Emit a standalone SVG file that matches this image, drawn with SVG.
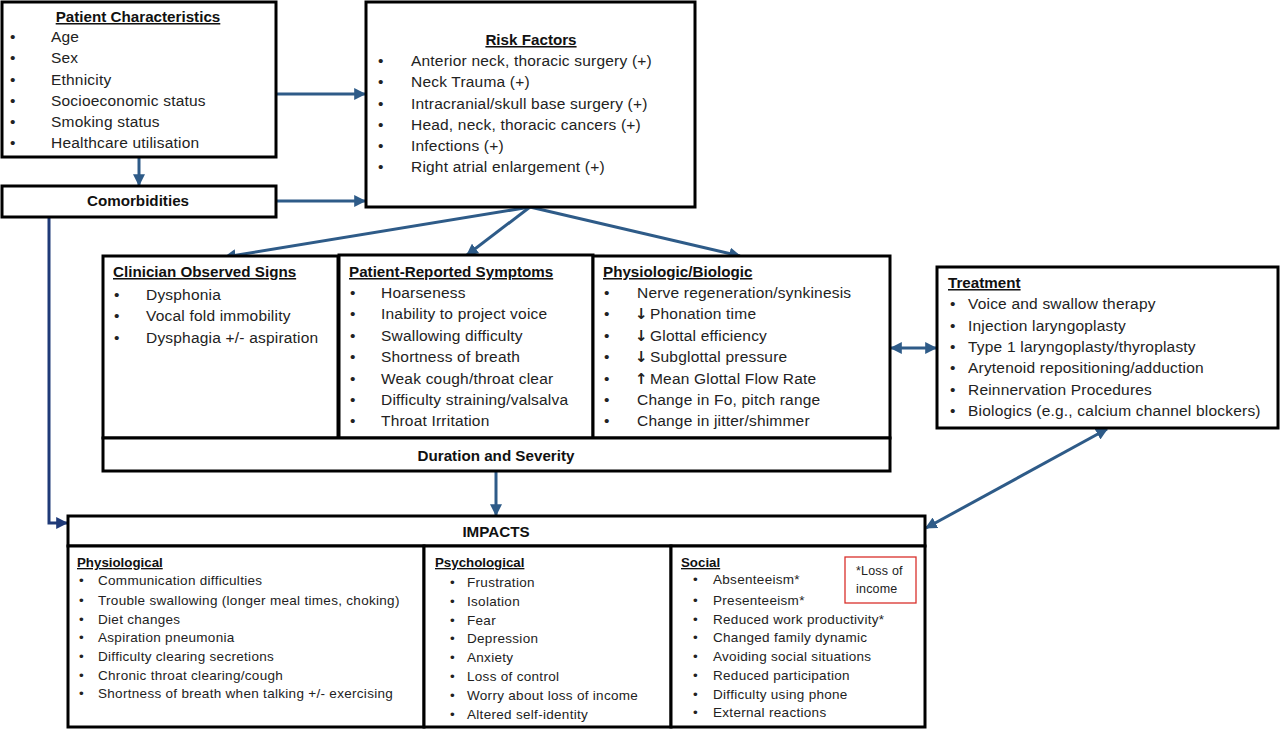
<svg xmlns="http://www.w3.org/2000/svg" width="1280" height="731" viewBox="0 0 1280 731">
<defs>
<marker id="ah" viewBox="0 0 10 10" refX="9" refY="5" markerWidth="4" markerHeight="4" orient="auto-start-reverse" markerUnits="strokeWidth">
<path d="M0,0 L10,5 L0,10 z" fill="#2E5B88"/>
</marker>
<marker id="ahd" viewBox="0 0 10 10" refX="9" refY="5" markerWidth="4" markerHeight="4" orient="auto" markerUnits="strokeWidth">
<path d="M0,0 L10,5 L0,10 z" fill="#1F3A78"/>
</marker>
<style>
.box{fill:#fff;stroke:#000;stroke-width:3}
.t{font-family:"Liberation Sans",Arial,sans-serif;font-size:15.5px;letter-spacing:0.2px;fill:#222}
.s{font-family:"Liberation Sans",Arial,sans-serif;font-size:13.5px;letter-spacing:0.3px;fill:#222}
.h{font-family:"Liberation Sans",Arial,sans-serif;font-size:15.2px;font-weight:bold;fill:#111}
.hs{font-family:"Liberation Sans",Arial,sans-serif;font-size:13.3px;font-weight:bold;fill:#111}
.ar{font-family:"DejaVu Sans",sans-serif;font-size:15px;font-weight:bold;fill:#222}
.u{text-decoration:underline}
.c{text-anchor:middle}
.con{fill:none;stroke:#2E5B88;stroke-width:3;marker-end:url(#ah)}
.dbl{marker-start:url(#ah)}
</style>
</defs>

<g id="connectors">
<line class="con" x1="276" y1="94" x2="365" y2="94"/>
<line class="con" x1="276" y1="201" x2="365" y2="201"/>
<line class="con" x1="139" y1="157" x2="139" y2="185"/>
<line class="con" x1="530" y1="207" x2="225" y2="257"/>
<line class="con" x1="530" y1="207" x2="467" y2="255"/>
<line class="con" x1="530" y1="207" x2="740" y2="256"/>
<line class="con" x1="496" y1="471" x2="496" y2="515"/>
<line class="con dbl" x1="891" y1="348" x2="936" y2="348"/>
<line class="con dbl" x1="1107" y1="429" x2="926" y2="528"/>
<polyline fill="none" stroke="#1F3A78" stroke-width="3" marker-end="url(#ahd)" points="49,217 49,523 67,523"/>
</g>

<g id="patient-characteristics">
<rect class="box" x="2" y="2" width="274" height="155"/>
<text class="h u c" x="138" y="22">Patient Characteristics</text>
<g class="t">
<text x="10" y="42">•</text><text x="51" y="42">Age</text>
<text x="10" y="63">•</text><text x="51" y="63">Sex</text>
<text x="10" y="85">•</text><text x="51" y="85">Ethnicity</text>
<text x="10" y="106">•</text><text x="51" y="106">Socioeconomic status</text>
<text x="10" y="127">•</text><text x="51" y="127">Smoking status</text>
<text x="10" y="148">•</text><text x="51" y="148">Healthcare utilisation</text>
</g>
</g>

<g id="comorbidities">
<rect class="box" x="2" y="186" width="274" height="31"/>
<text class="h c" x="138" y="206">Comorbidities</text>
</g>

<g id="risk-factors">
<rect class="box" x="366" y="2" width="329" height="205"/>
<text class="h u c" x="531" y="45">Risk Factors</text>
<g class="t">
<text x="378" y="66">•</text><text x="411" y="66">Anterior  neck, thoracic surgery (+)</text>
<text x="378" y="87">•</text><text x="411" y="87">Neck Trauma (+)</text>
<text x="378" y="109">•</text><text x="411" y="109">Intracranial/skull base surgery (+)</text>
<text x="378" y="130">•</text><text x="411" y="130">Head, neck, thoracic cancers (+)</text>
<text x="378" y="151">•</text><text x="411" y="151">Infections (+)</text>
<text x="378" y="172">•</text><text x="411" y="172">Right atrial enlargement (+)</text>
</g>
</g>

<g id="clinician-signs">
<rect class="box" x="103" y="256" width="235" height="182"/>
<text class="h u" x="113" y="277">Clinician Observed Signs</text>
<g class="t">
<text x="114" y="300">•</text><text x="146" y="300">Dysphonia</text>
<text x="114" y="321">•</text><text x="146" y="321">Vocal fold immobility</text>
<text x="114" y="343">•</text><text x="146" y="343">Dysphagia +/- aspiration</text>
</g>
</g>

<g id="patient-symptoms">
<rect class="box" x="339" y="255" width="254" height="183"/>
<text class="h u" x="349" y="277">Patient-Reported Symptoms</text>
<g class="t">
<text x="350" y="298">•</text><text x="381" y="298">Hoarseness</text>
<text x="350" y="319">•</text><text x="381" y="319">Inability to project voice</text>
<text x="350" y="341">•</text><text x="381" y="341">Swallowing difficulty</text>
<text x="350" y="362">•</text><text x="381" y="362">Shortness of breath</text>
<text x="350" y="384">•</text><text x="381" y="384">Weak cough/throat clear</text>
<text x="350" y="405">•</text><text x="381" y="405">Difficulty straining/valsalva</text>
<text x="350" y="426">•</text><text x="381" y="426">Throat Irritation</text>
</g>
</g>

<g id="physiologic">
<rect class="box" x="593" y="256" width="297" height="182"/>
<text class="h u" x="603" y="277">Physiologic/Biologic</text>
<g class="t">
<text x="604" y="298">•</text><text x="637" y="298">Nerve regeneration/synkinesis</text>
<text x="604" y="319">•</text><text class="ar" x="635" y="319">↓</text><text x="650" y="319">Phonation time</text>
<text x="604" y="341">•</text><text class="ar" x="635" y="341">↓</text><text x="650" y="341">Glottal efficiency</text>
<text x="604" y="362">•</text><text class="ar" x="635" y="362">↓</text><text x="650" y="362">Subglottal pressure</text>
<text x="604" y="384">•</text><text class="ar" x="635" y="384">↑</text><text x="650" y="384">Mean Glottal Flow Rate</text>
<text x="604" y="405">•</text><text x="637" y="405">Change in Fo, pitch range</text>
<text x="604" y="426">•</text><text x="637" y="426">Change in jitter/shimmer</text>
</g>
</g>

<g id="duration-severity">
<rect class="box" x="103" y="438" width="787" height="33"/>
<text class="h c" x="496" y="461">Duration and Severity</text>
</g>

<g id="treatment">
<rect class="box" x="937" y="267" width="341" height="161"/>
<text class="h u" x="948" y="288">Treatment</text>
<g class="t">
<text x="950" y="309">•</text><text x="968" y="309">Voice and swallow therapy</text>
<text x="950" y="331">•</text><text x="968" y="331">Injection laryngoplasty</text>
<text x="950" y="352">•</text><text x="968" y="352">Type 1 laryngoplasty/thyroplasty</text>
<text x="950" y="373">•</text><text x="968" y="373">Arytenoid repositioning/adduction</text>
<text x="950" y="395">•</text><text x="968" y="395">Reinnervation Procedures</text>
<text x="950" y="416">•</text><text x="968" y="416">Biologics (e.g., calcium channel blockers)</text>
</g>
</g>

<g id="impacts">
<rect class="box" x="68" y="516" width="857" height="30"/>
<text class="h c" x="496" y="537">IMPACTS</text>
</g>

<g id="physiological">
<rect class="box" x="68" y="546" width="356" height="181"/>
<text class="hs u" x="77" y="567">Physiological</text>
<g class="s">
<text x="79" y="585">•</text><text x="98" y="585">Communication difficulties</text>
<text x="79" y="605">•</text><text x="98" y="605">Trouble swallowing (longer meal times, choking)</text>
<text x="79" y="624">•</text><text x="98" y="624">Diet changes</text>
<text x="79" y="642">•</text><text x="98" y="642">Aspiration pneumonia</text>
<text x="79" y="661">•</text><text x="98" y="661">Difficulty clearing secretions</text>
<text x="79" y="680">•</text><text x="98" y="680">Chronic throat clearing/cough</text>
<text x="79" y="698">•</text><text x="98" y="698">Shortness of breath when talking +/- exercising</text>
</g>
</g>

<g id="psychological">
<rect class="box" x="424" y="546" width="247" height="181"/>
<text class="hs u" x="435" y="567">Psychological</text>
<g class="s">
<text x="450" y="587">•</text><text x="467" y="587">Frustration</text>
<text x="450" y="606">•</text><text x="467" y="606">Isolation</text>
<text x="450" y="625">•</text><text x="467" y="625">Fear</text>
<text x="450" y="643">•</text><text x="467" y="643">Depression</text>
<text x="450" y="662">•</text><text x="467" y="662">Anxiety</text>
<text x="450" y="681">•</text><text x="467" y="681">Loss of control</text>
<text x="450" y="700">•</text><text x="467" y="700">Worry about loss of income</text>
<text x="450" y="719">•</text><text x="467" y="719">Altered self-identity</text>
</g>
</g>

<g id="social">
<rect class="box" x="671" y="546" width="254" height="181"/>
<text class="hs u" x="681" y="567">Social</text>
<g class="s">
<text x="693" y="584">•</text><text x="713" y="584">Absenteeism*</text>
<text x="693" y="605">•</text><text x="713" y="605">Presenteeism*</text>
<text x="693" y="624">•</text><text x="713" y="624">Reduced work productivity*</text>
<text x="693" y="642">•</text><text x="713" y="642">Changed family dynamic</text>
<text x="693" y="661">•</text><text x="713" y="661">Avoiding social situations</text>
<text x="693" y="680">•</text><text x="713" y="680">Reduced participation</text>
<text x="693" y="699">•</text><text x="713" y="699">Difficulty using phone</text>
<text x="693" y="717">•</text><text x="713" y="717">External reactions</text>
</g>
<rect x="845" y="557" width="71" height="46" fill="#fff" stroke="#D9302C" stroke-width="1.3"/>
<text class="s" x="856" y="575" style="font-size:12.5px;letter-spacing:0.2px">*Loss of</text>
<text class="s" x="856" y="593" style="font-size:12.5px;letter-spacing:0.2px">income</text>
</g>
</svg>
